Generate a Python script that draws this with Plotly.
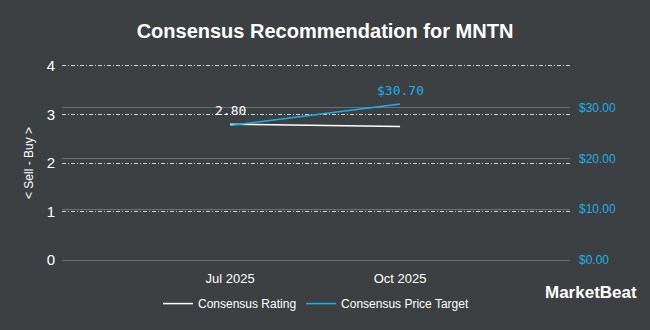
import plotly.graph_objects as go

# Consensus rating (left axis) and consensus price target (right axis)
rating_dates = ["2025-07-01", "2025-08-01", "2025-09-01", "2025-10-01"]
rating_values = [2.80, 2.78, 2.77, 2.75]

target_dates = ["2025-07-01", "2025-10-01"]
target_values = [26.50, 30.70]

x_ticks = ["2025-07-01", "2025-10-01"]
x_tick_labels = ["Jul 2025", "Oct 2025"]
left_ticks = [0, 1, 2, 3, 4]
right_ticks = [0, 10, 20, 30]
right_tick_labels = ["$0.00", "$10.00", "$20.00", "$30.00"]

BG = "#3d4043"
BLUE = "#1ab1ea"
FONT = "Liberation Sans, Arial, sans-serif"

# a small pad keeps the edge gridlines visible; both axes share the same zero
PAD_LO, PAD_HI = -0.04, 4.04
SCALE = 38.2 / 4

fig = go.Figure()
fig.add_trace(go.Scatter(
    x=rating_dates, y=rating_values, mode="lines", name="Consensus Rating",
    line=dict(color="#ffffff", width=1.5), yaxis="y",
))
fig.add_trace(go.Scatter(
    x=target_dates, y=target_values, mode="lines", name="Consensus Price Target",
    line=dict(color=BLUE, width=1.5), yaxis="y2",
))

# value labels at the ends of each series
fig.add_annotation(x=rating_dates[0], y=rating_values[0], xref="x", yref="y",
                   text=f"{rating_values[0]:.2f}", showarrow=False, yshift=14,
                   font=dict(family="DejaVu Sans Mono, monospace", size=13, color="#ffffff"))
fig.add_annotation(x=target_dates[-1], y=target_values[-1], xref="x", yref="y2",
                   text=f"${target_values[-1]:.2f}", showarrow=False, yshift=14,
                   font=dict(family="DejaVu Sans Mono, monospace", size=13, color=BLUE))

# brand mark
fig.add_annotation(x=1.0, y=-0.21, xref="paper", yref="paper", xanchor="left",
                   xshift=-27, text="<b>MarketBeat</b>", showarrow=False,
                   font=dict(family=FONT, size=17, color="#ffffff"))

fig.update_layout(
    width=650, height=330,
    paper_bgcolor=BG, plot_bgcolor=BG,
    margin=dict(l=62, r=80, t=64, b=65),
    title=dict(text="<b>Consensus Recommendation for MNTN</b>", x=0.5, xanchor="center",
               y=0.905, yanchor="middle", font=dict(family=FONT, size=20, color="#ffffff")),
    font=dict(family=FONT, color="#ffffff"),
    xaxis=dict(range=["2025-04-01", "2026-01-01"], tickvals=x_ticks, ticktext=x_tick_labels,
               showgrid=False, zeroline=False, showline=False, ticks="",
               ticklabelstandoff=7, tickfont=dict(size=13, color="#ffffff")),
    yaxis=dict(range=[PAD_LO, PAD_HI], tickvals=left_ticks, showgrid=True, gridcolor="#cfd1d3",
               griddash="4px,2px,1px,2px", gridwidth=1, zeroline=False, showline=False,
               tickfont=dict(size=15, color="#ffffff"), ticklabelstandoff=6,
               title=dict(text="&lt; Sell - Buy &gt;", font=dict(size=12, color="#ffffff"),
                          standoff=10)),
    yaxis2=dict(range=[PAD_LO * SCALE, PAD_HI * SCALE], overlaying="y", side="right",
                tickvals=right_ticks, ticktext=right_tick_labels, showgrid=True,
                gridcolor="#6d7075", gridwidth=1, zeroline=False, showline=False,
                tickfont=dict(size=12, color=BLUE), ticklabelstandoff=8),
    legend=dict(orientation="h", x=0.5, xanchor="center", y=-0.21, yanchor="middle",
                font=dict(size=12, color="#ffffff"), bgcolor="rgba(0,0,0,0)"),
    showlegend=True,
)

fig.write_html("out.html")
